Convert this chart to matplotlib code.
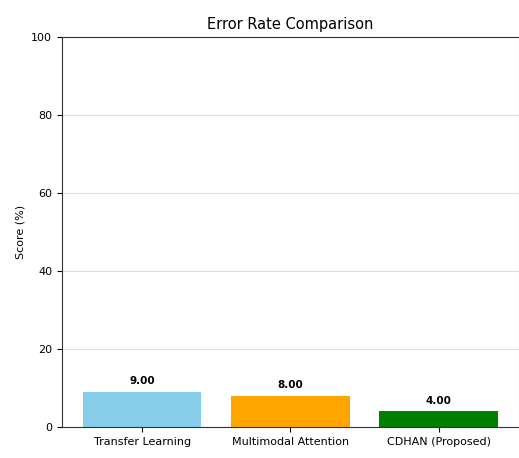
import matplotlib.pyplot as plt

models = ["Transfer Learning", "Multimodal Attention", "CDHAN (Proposed)"]
error_rates = [9.0, 8.0, 4.0]
colors = ["skyblue", "orange", "green"]

fig = plt.figure(figsize=(5.19, 4.58), dpi=100)
ax = fig.add_axes([0.1195, 0.0677, 0.88, 0.851])

bars = ax.bar(models, error_rates, color=colors, width=0.8)
for bar, val in zip(bars, error_rates):
    ax.text(bar.get_x() + bar.get_width() / 2, val + 1.5, f"{val:.2f}",
            ha="center", va="bottom", fontsize=7.5, fontweight="bold")

ax.set_ylim(0, 100)
ax.set_title("Error Rate Comparison", fontsize=10.5)
ax.set_ylabel("Score (%)", fontsize=8)
ax.tick_params(labelsize=8)
ax.yaxis.grid(True, color="#dddddd", linewidth=0.8)
ax.set_axisbelow(True)
for s in ax.spines.values():
    s.set_color("#333333")
ax.spines["right"].set_color("#e4e4e4")

fig.savefig("out.png", dpi=100)
